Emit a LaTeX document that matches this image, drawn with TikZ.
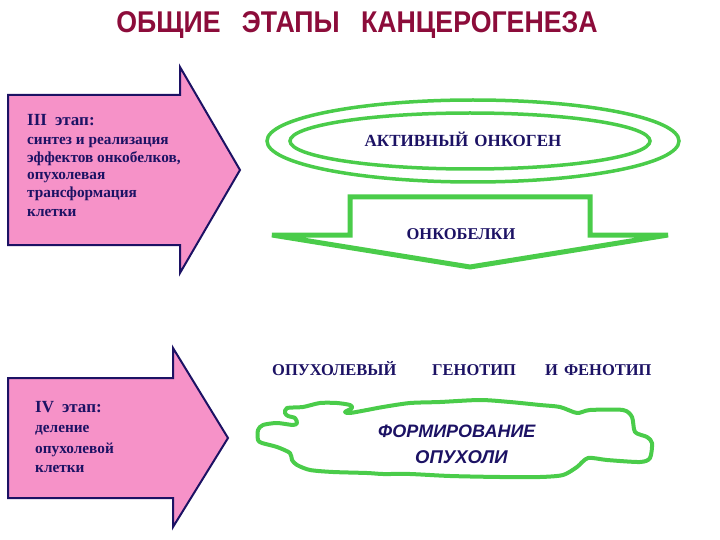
\documentclass[tikz,border=0pt]{standalone}
\usepackage{fontspec}
\setmainfont{Liberation Serif}
\setsansfont{Liberation Sans}
\usetikzlibrary{positioning}

\definecolor{stagepink}{RGB}{246,146,200}
\definecolor{stagenavy}{RGB}{28,18,100}
\definecolor{titlered}{RGB}{140,12,58}
\definecolor{onkogreen}{RGB}{74,204,74}

\begin{document}
\begin{tikzpicture}[x=1pt,y=-1pt,
stagearrow/.style={draw=stagenavy, fill=stagepink, line width=2pt, line join=miter},
stagehead/.style={text=stagenavy, font=\bfseries\fontsize{17}{17}\selectfont, inner sep=0pt, anchor=base west},
stageline/.style={text=stagenavy, font=\bfseries\fontsize{15.3}{16}\selectfont, inner sep=0pt, anchor=base west},
capsnode/.style={text=stagenavy, font=\bfseries\fontsize{16.5}{16.5}\selectfont, inner sep=0pt, anchor=base},
blobtext/.style={text=stagenavy, font=\sffamily\bfseries\itshape\fontsize{18}{18}\selectfont, inner sep=0pt, anchor=base west},
greenline/.style={draw=onkogreen, line width=4pt, line join=miter},
titletext/.style={text=titlered, font=\sffamily\bfseries\fontsize{30}{30}\selectfont, inner sep=0pt, anchor=base},
]
\useasboundingbox (0,0) rectangle (720,540);

% title
\node[titletext] (title) at (357,33) {\scalebox{0.89}[1]{ОБЩИЕ\hspace{24pt}ЭТАПЫ\hspace{24pt}КАНЦЕРОГЕНЕЗА}};

% stage III
\draw[stagearrow] (8,95) -- (180,95) -- (180,67) -- (240,170) -- (180,273) -- (180,245) -- (8,245) -- cycle;
\node[stagehead] (head3) at (27,126) {III\hspace{8pt}этап:};
\node[stageline] (line3a) [below=19pt of head3.base west, anchor=base west] {синтез и реализация};
\node[stageline] (line3b) [below=18pt of line3a.base west, anchor=base west] {эффектов онкобелков,};
\node[stageline] (line3c) [below=17pt of line3b.base west, anchor=base west] {опухолевая};
\node[stageline] (line3d) [below=18pt of line3c.base west, anchor=base west] {трансформация};
\node[stageline] (line3e) [below=19pt of line3d.base west, anchor=base west] {клетки};

% stage IV
\draw[stagearrow] (8,378) -- (173,378) -- (173,348) -- (228,438) -- (173,527) -- (173,498) -- (8,498) -- cycle;
\node[stagehead] (head4) at (35,412) {IV\hspace{8pt}этап:};
\node[stageline] (line4a) [below=20pt of head4.base west, anchor=base west] {деление};
\node[stageline] (line4b) [below=21pt of line4a.base west, anchor=base west] {опухолевой};
\node[stageline] (line4c) [below=19pt of line4b.base west, anchor=base west] {клетки};

% oncogene
\draw[greenline, line width=3.5pt] (473,141) ellipse [x radius=206, y radius=41];
\draw[greenline, line width=3.5pt] (470,141) ellipse [x radius=180, y radius=28];
\node[capsnode, font=\bfseries\fontsize{17}{17}\selectfont] (oncogene) at (463,147) {АКТИВНЫЙ\hspace{6pt}ОНКОГЕН};

% oncoproteins
\draw[greenline, line width=5pt] (272,235) -- (350,235) -- (350,197) -- (590,197) -- (590,235) -- (668,235) -- (470,267) -- cycle;
\node[capsnode] (proteins) at (461,240) {ОНКОБЕЛКИ};

% genotype and phenotype
\node[capsnode, anchor=base west] (geno1) at (272,375) {ОПУХОЛЕВЫЙ};
\node[capsnode, anchor=base west] (geno2) at (432,375) {ГЕНОТИП};
\node[capsnode, anchor=base west] (geno3) at (545,375) {И\hspace{6pt}ФЕНОТИП};

% tumour
\draw[greenline, line join=round] plot[smooth cycle, tension=0.45] coordinates {
  (287,408) (303,407) (320,403) (337,403) (350,405) (352,408) (345,412)
  (350,413) (367,410) (383,407) (410,403) (440,402) (480,400) (510,402)
  (540,405) (560,407) (577,413) (590,410) (623,410) (632,417) (635,432)
  (647,437) (652,443) (650,458) (640,462) (607,460) (588,458) (577,467)
  (563,475) (540,477) (500,477) (450,476) (410,474) (383,474) (367,473)
  (333,472) (310,470) (297,465) (292,460) (290,453) (277,447) (262,443)
  (258,440) (258,430) (263,425) (277,423) (293,425) (297,423) (295,418)
  (288,416) (285,413)};
\node[blobtext] (tumour1) at (378,437) {ФОРМИРОВАНИЕ};
\node[blobtext, font=\sffamily\bfseries\itshape\fontsize{18.5}{18.5}\selectfont] (tumour2) at (415,463) {ОПУХОЛИ};
\end{tikzpicture}
\end{document}
